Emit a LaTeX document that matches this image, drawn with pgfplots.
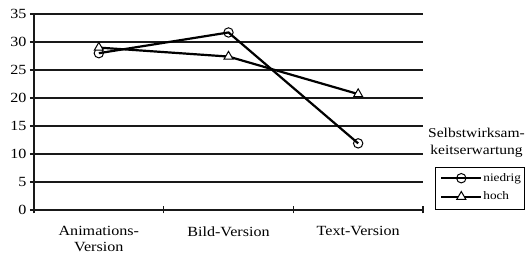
\documentclass[border=0pt]{standalone}
\usepackage{fontspec}
\setmainfont{Liberation Serif}[FakeStretch=1.15]
\usepackage{pgfplots}
\pgfplotsset{compat=1.18}
\begin{document}
\begin{tikzpicture}[font=\fontsize{14}{16}\selectfont]
\begin{axis}[
 at={(0,0)}, anchor=south west,
 scale only axis, width=389pt, height=196pt,
 xmin=0.5, xmax=3.5, ymin=0, ymax=35,
 axis x line=bottom, axis y line=left,
 axis line style={-, line width=1.2pt, black!90},
 ytick={0,5,...,35}, ymajorgrids,
 grid style={line width=1.2pt, black!90},
 xtick={1,2,3},
 xticklabels={{Animations-\\Version},{Bild-Version},{Text-Version}},
 xticklabel style={align=center, yshift=-11pt},
 major x tick style={draw=none},
 minor xtick={0.5,1.5,2.5,3.5},
 xtick align=center, ytick align=outside,
 major tick length=4pt, minor tick length=7pt,
 tick style={line width=1.2pt, black!90},
 /pgf/number format/assume math mode=true,
 clip=false,
 legend style={at={(axis description cs:1.0437,0.115)}, anchor=west, draw=none, fill=none,
   inner sep=0pt, row sep=7pt, font=\fontsize{11.5}{13}\selectfont,
   nodes={inner xsep=1pt, inner ysep=1pt}},
 legend cell align=left,
 legend image code/.code={\draw[mark repeat=2,mark phase=2,#1] plot coordinates {(0pt,0pt) (20pt,0pt) (40pt,0pt)};},
]
\addplot[black, line width=2.2pt, mark=o, mark size=4.7pt, mark options={fill=white, line width=1pt}] coordinates {(1,28.0) (2,31.7) (3,11.9)};
\addlegendentry{niedrig}
\addplot[black, line width=2.2pt, mark=triangle*, mark size=5.2pt, mark options={fill=white, line width=1pt}] coordinates {(1,29.0) (2,27.4) (3,20.7)};
\addlegendentry{hoch}
\node[align=center, font=\fontsize{13.5}{17}\selectfont] at (axis description cs:1.1375,0.342) {Selbstwirksam-\\keitserwartung};
\draw[line width=0.8pt] (axis description cs:1.0308,0.2194) rectangle (axis description cs:1.2596,0.0026);
\end{axis}
\pgfresetboundingbox
\path (-34pt,-46pt) rectangle (491pt,210pt);
\end{tikzpicture}
\end{document}
